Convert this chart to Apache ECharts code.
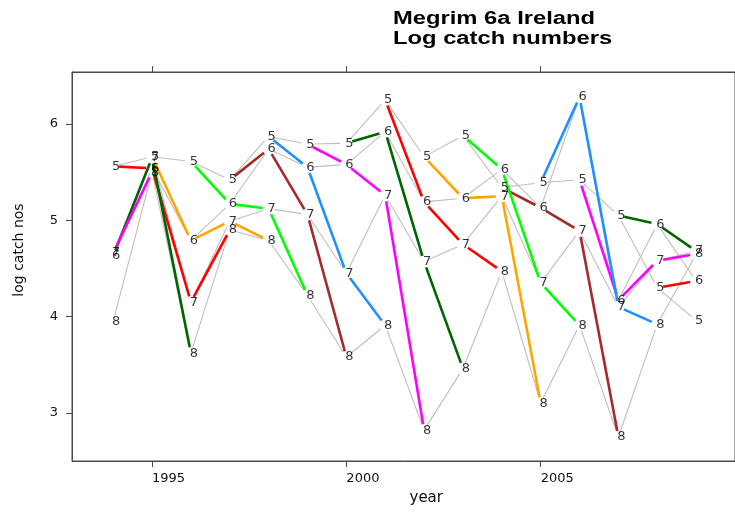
<!DOCTYPE html>
<html>
<head>
<meta charset="utf-8">
<script src="https://cdn.jsdelivr.net/npm/echarts@6/dist/echarts.min.js"></script>
<style>html,body{margin:0;padding:0;background:#fff;}#chart{width:735px;height:512px;}</style>
</head>
<body>
<div id="chart"></div>
<script>
// ---- data ----
const years = [1994,1995,1996,1997,1998,1999,2000,2001,2002,2003,2004,2005,2006,2007,2008,2009];
const ages = [5, 6, 7, 8];
const age5 = [5.56,5.66,5.61,5.42,5.87,5.79,5.80,6.25,5.66,5.88,5.34,5.39,5.42,5.05,4.30,3.96];
const age6 = [4.63,5.54,4.79,5.17,5.74,5.55,5.58,5.92,5.19,5.23,5.53,5.13,6.28,4.17,4.96,4.37];
const age7 = [4.66,5.65,4.15,4.99,5.12,5.06,4.45,5.26,4.57,4.75,5.25,4.35,4.89,4.10,4.58,4.68];
const age8 = [3.95,5.50,3.62,4.90,4.79,4.22,3.58,3.91,2.82,3.46,4.47,3.10,3.91,2.75,3.92,4.65];
const xTicks = [1995, 2000, 2005];
const yTicks = [3, 4, 5, 6];
// cohort colours, cycling by year class (first: year class 1987)
const cohortColours = ['#FF00FF','#006400','#FF0000','#FFA500','#00FF00','#A52A2A','#1E90FF'];
const firstYearClass = 1987;

const byAge = [age5, age6, age7, age8];

// grey lines: same age across years
const greySegs = [];
byAge.forEach(vals => {
  for (let i = 0; i < years.length - 1; i++) {
    greySegs.push([years[i], vals[i], years[i+1], vals[i+1]]);
  }
});
// cohort lines: age a in year y -> age a+1 in year y+1
const cohortSegs = [];
for (let i = 0; i < years.length - 1; i++) {
  for (let k = 0; k < ages.length - 1; k++) {
    const yc = years[i] - ages[k];
    const ci = (((yc - firstYearClass) % 7) + 7) % 7;
    cohortSegs.push([years[i], byAge[k][i], years[i+1], byAge[k+1][i+1], ci]);
  }
}

const GAP = 6;
function segRenderer(colorFn, width) {
  return function (params, api) {
    const p1 = api.coord([api.value(0), api.value(1)]);
    const p2 = api.coord([api.value(2), api.value(3)]);
    const dx = p2[0] - p1[0], dy = p2[1] - p1[1];
    const L = Math.hypot(dx, dy);
    if (L <= 2 * GAP) return;
    const ux = dx / L, uy = dy / L;
    return {
      type: 'line',
      shape: { x1: p1[0] + ux * GAP, y1: p1[1] + uy * GAP, x2: p2[0] - ux * GAP, y2: p2[1] - uy * GAP },
      style: { stroke: colorFn(api), lineWidth: width, lineCap: 'butt' }
    };
  };
}

const series = [];
series.push({
  type: 'custom', silent: true, z: 2,
  data: greySegs,
  encode: { x: [0, 2], y: [1, 3] },
  renderItem: segRenderer(() => '#BEBEBE', 1.1)
});
series.push({
  type: 'custom', silent: true, z: 3,
  data: cohortSegs,
  encode: { x: [0, 2], y: [1, 3] },
  renderItem: segRenderer(api => cohortColours[api.value(4)], 2.6)
});
ages.forEach((a, k) => {
  series.push({
    type: 'scatter', silent: true, z: 5,
    symbol: 'circle', symbolSize: 1,
    itemStyle: { color: 'rgba(0,0,0,0)' },
    data: years.map((y, i) => [y, byAge[k][i]]),
    label: {
      show: true, position: 'inside', offset: [3, 0],
      formatter: String(a),
      color: '#000', fontFamily: 'DejaVu Sans', fontSize: 13
    }
  });
});

const chart = echarts.init(document.getElementById('chart'), null, { renderer: 'canvas' });
chart.setOption({
  animation: false,
  backgroundColor: '#ffffff',
  graphic: [{
    type: 'text', left: 393, top: 9, scaleX: 1.32,
    style: {
      text: 'Megrim 6a Ireland\nLog catch numbers',
      font: 'bold 18px "Liberation Sans", Arial, sans-serif',
      lineHeight: 20, fill: '#000'
    }
  }],
  grid: {
    left: 72, top: 72, right: -8, bottom: 51,
    show: true, borderColor: '#4a4a4a', borderWidth: 1, backgroundColor: 'transparent'
  },
  xAxis: [{
    type: 'value', min: 1992.94, max: 2010, position: 'bottom',
    name: 'year', nameLocation: 'middle', nameGap: 30,
    nameTextStyle: { fontFamily: 'DejaVu Sans', fontSize: 15, color: '#111', align: 'left', padding: [0, 0, 0, 6] },
    axisLine: { show: true, lineStyle: { color: '#4a4a4a', width: 1 } },
    axisTick: { show: true, length: 6, customValues: xTicks, lineStyle: { color: '#4a4a4a' } },
    axisLabel: { customValues: xTicks, formatter: v => String(v), align: 'left', margin: 11, fontFamily: 'DejaVu Sans', fontSize: 13, color: '#111' },
    splitLine: { show: false }
  }, {
    type: 'value', min: 1992.94, max: 2010, position: 'top',
    axisLine: { show: true, lineStyle: { color: '#4a4a4a', width: 1 } },
    axisTick: { show: true, length: 6, customValues: xTicks, lineStyle: { color: '#4a4a4a' } },
    axisLabel: { show: false },
    splitLine: { show: false }
  }],
  yAxis: {
    type: 'value', min: 2.5, max: 6.54,
    name: 'log catch nos', nameLocation: 'middle', nameGap: 46,
    nameTextStyle: { fontFamily: 'DejaVu Sans', fontSize: 14, color: '#111', padding: [0, 0, 0, 33] },
    axisLine: { show: true, lineStyle: { color: '#4a4a4a', width: 1 } },
    axisTick: { show: true, length: 6, customValues: yTicks, lineStyle: { color: '#4a4a4a' } },
    axisLabel: { customValues: yTicks, margin: 14, fontFamily: 'DejaVu Sans', fontSize: 13, color: '#111' },
    splitLine: { show: false }
  },
  series: series
});
</script>
</body>
</html>
